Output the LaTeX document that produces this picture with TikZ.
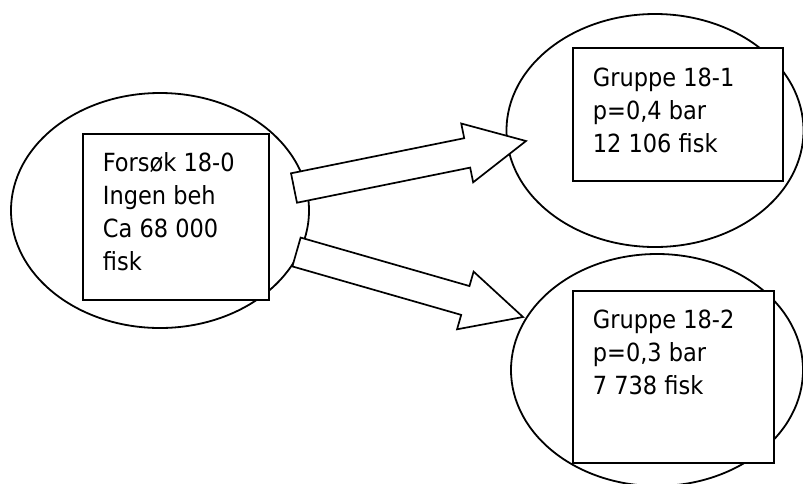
\documentclass[tikz,border=0pt]{standalone}
\usepackage{fontspec}
\setmainfont{DejaVu Sans Condensed}
\usetikzlibrary{calc,shapes.geometric}

\begin{document}
\begin{tikzpicture}[x=1pt,y=-1pt,line width=1.8pt,
    oval/.style={draw,ellipse,fill=white,inner sep=0pt},
    boks/.style={draw,rectangle,fill=white,inner sep=0pt,line width=2pt},
    tekst/.style={anchor=north west,align=left,inner sep=0pt,font=\fontsize{25}{33}\selectfont},
    pil/.style={draw,fill=white,line width=1.7pt,line join=miter}]
  \useasboundingbox[fill=white] (0,0) rectangle (803,483);
  % ellipsene
  \node[oval,minimum width=298pt,minimum height=235pt] (forsok) at (160,210.5) {};
  \node[oval,minimum width=297pt,minimum height=233pt] (gr1) at (655,130.5) {};
  \node[oval,minimum width=292pt,minimum height=232pt] (gr2) at (657,370) {};
  % boksene med tekst
  \node[boks,minimum width=186pt,minimum height=166pt] (b0) at (176,217) {};
  \node[boks,minimum width=210pt,minimum height=133pt] (b1) at (678,114.5) {};
  \node[boks,minimum width=201pt,minimum height=172pt] (b2) at (673.5,377) {};
  \node[tekst] (t0) at ([shift={(20,18.5)}]b0.north west) {Forsøk 18-0\\Ingen beh\\Ca 68 000\\fisk};
  \node[tekst] (t1) at ([shift={(20,20)}]b1.north west) {Gruppe 18-1\\p=0,4 bar\\12 106 fisk};
  \node[tekst] (t2) at ([shift={(20,19.5)}]b2.north west) {Gruppe 18-2\\p=0,3 bar\\7 738 fisk};
  % pilene (hale og spiss)
  \coordinate (h1) at (294,188);
  \coordinate (s1) at (526,141);
  \coordinate (h2) at (296.5,252);
  \coordinate (s2) at (523,317);
  \foreach \fra/\til in {h1/s1, h2/s2} {
    \coordinate (m) at ($(\til)!60pt!(\fra)$);   % rot av pilhodet
    \draw[pil] ($(\fra)!15pt!90:(\til)$) -- ($(m)!15pt!90:(\til)$)
      -- ($(m)!30pt!90:(\til)$) -- (\til) -- ($(m)!30pt!-90:(\til)$)
      -- ($(m)!15pt!-90:(\til)$) -- ($(\fra)!15pt!-90:(\til)$) -- cycle;
  }
\end{tikzpicture}
\end{document}
